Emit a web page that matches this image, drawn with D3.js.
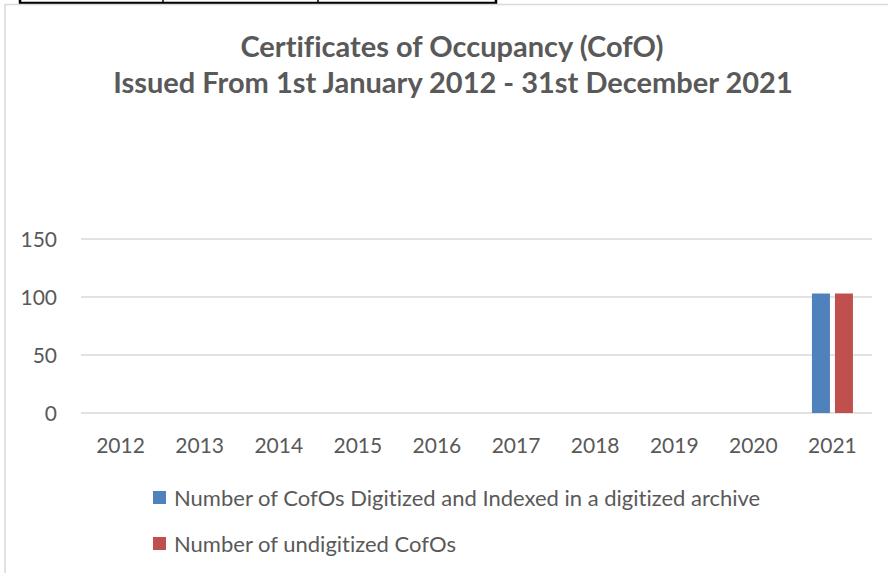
<!DOCTYPE html>
<html lang="en">
<head>
  <meta charset="UTF-8">
  <title>Certificates of Occupancy</title>
  <script src="https://d3js.org/d3.v7.min.js"></script>
  <style>
    body { margin: 0; background: #fff; }
    text { font-family: Lato, "Open Sans", sans-serif; fill: #595959; font-variant-ligatures: none; }
    .grid line { stroke: #d9d9d9; stroke-width: 1.5px; }
  </style>
</head>
<body>
  <script>
    // chart values
    const years = ["2012", "2013", "2014", "2015", "2016", "2017", "2018", "2019", "2020", "2021"];
    const digitized = [0, 0, 0, 0, 0, 0, 0, 0, 0, 103];
    const undigitized = [0, 0, 0, 0, 0, 0, 0, 0, 0, 103];
    const yTicks = [0, 50, 100, 150];
    const seriesNames = [
      "Number of CofOs Digitized and Indexed in a digitized archive",
      "Number of undigitized CofOs"
    ];
    const colors = ["#4f81bd", "#c0504d"];

    const width = 888, height = 573;
    const svg = d3.select("body").append("svg")
      .attr("width", width)
      .attr("height", height);

    // table fragment at the top of the page
    svg.append("rect").attr("x", 20).attr("y", -2).attr("width", 476).attr("height", 5)
      .attr("fill", "none").attr("stroke", "#000").attr("stroke-width", 2.5);
    [163, 318].forEach(x => svg.append("line")
      .attr("x1", x).attr("x2", x).attr("y1", 0).attr("y2", 3)
      .attr("stroke", "#000").attr("stroke-width", 1.5));

    // chart frame
    svg.append("path")
      .attr("d", "M5,573 V4.5 H888")
      .attr("fill", "none").attr("stroke", "#d9d9d9").attr("stroke-width", 1.5);

    // title
    const title = svg.append("text")
      .attr("text-anchor", "middle")
      .style("font-weight", "bold")
      .style("font-size", "29px");
    title.append("tspan").attr("x", 452).attr("y", 57).text("Certificates of Occupancy (CofO)");
    title.append("tspan").attr("x", 453).attr("y", 93).text("Issued From 1st January 2012 - 31st December 2021");

    const x = d3.scaleBand().domain(years).range([81, 872]);
    const y = d3.scaleLinear().domain([0, 150]).range([413, 239]);

    // gridlines
    svg.append("g").attr("class", "grid")
      .selectAll("line").data(yTicks).join("line")
      .attr("x1", 81).attr("x2", 872)
      .attr("y1", d => y(d)).attr("y2", d => y(d));

    // y labels
    svg.append("g").selectAll("text").data(yTicks).join("text")
      .attr("x", 57).attr("y", d => y(d) + 7.5)
      .attr("text-anchor", "end")
      .style("font-size", "21px")
      .text(d => d);

    // x labels
    svg.append("g").selectAll("text").data(years).join("text")
      .attr("x", d => x(d) + x.bandwidth() / 2).attr("y", 453)
      .attr("text-anchor", "middle")
      .style("font-size", "21px")
      .text(d => d);

    // bars
    const barW = 18, gap = 5;
    const series = [digitized, undigitized];
    series.forEach((vals, si) => {
      svg.append("g").selectAll("rect").data(years).join("rect")
        .attr("x", (d, i) => x(d) + x.bandwidth() / 2 - barW - gap / 2 + si * (barW + gap))
        .attr("y", (d, i) => y(vals[i]))
        .attr("width", barW)
        .attr("height", (d, i) => y(0) - y(vals[i]))
        .attr("fill", colors[si]);
    });

    // legend
    const legend = svg.append("g").selectAll("g").data(seriesNames).join("g")
      .attr("transform", (d, i) => `translate(153, ${491 + i * 46})`);
    legend.append("rect")
      .attr("width", 13).attr("height", 13)
      .attr("fill", (d, i) => colors[i]);
    legend.append("text")
      .attr("x", 21).attr("y", 14.5)
      .style("font-size", "22px")
      .text(d => d);
  </script>
</body>
</html>
